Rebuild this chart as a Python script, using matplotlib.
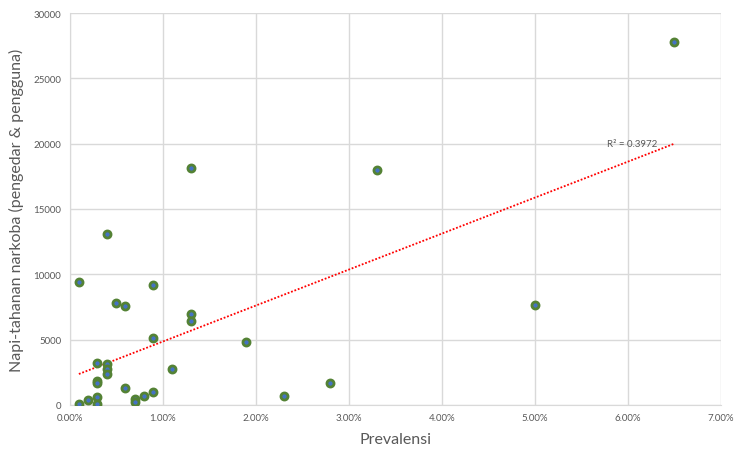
import numpy as np
import matplotlib.pyplot as plt
from matplotlib.ticker import PercentFormatter

plt.rcParams["font.family"] = ["Lato", "DejaVu Sans"]

# -----------------------------
# Data
# -----------------------------
prevalensi = [
    0.004, 0.001, 0.009, 0.005, 0.006, 0.013, 0.013, 0.009, 0.019, 0.003,
    0.004, 0.004, 0.004, 0.011, 0.003, 0.003, 0.006, 0.009, 0.008, 0.007,
    0.007, 0.003, 0.002, 0.001, 0.003, 0.013, 0.033, 0.065, 0.050, 0.028,
    0.023,
]
napi = [
    13100, 9400, 9200, 7800, 7550, 6950, 6400, 5150, 4850, 3200,
    3100, 2750, 2400, 2750, 1800, 1650, 1300, 1000, 700, 450,
    250, 600, 350, 100, 50, 18100, 17950, 27750, 7650, 1650,
    650,
]
r2_label = "R\u00b2 = 0.3972"

x = np.array(prevalensi)
y = np.array(napi)

grey = "#595959"
grid_col = "#d9d9d9"

fig = plt.figure(figsize=(7.37, 4.52), dpi=100)
ax = fig.add_axes([0.0944, 0.1018, 0.8836, 0.8672])

ax.scatter(x, y, s=26, facecolor="#4472c4", edgecolor="#548235",
           linewidths=2.0, zorder=3)

# linear trendline
slope, intercept = np.polyfit(x, y, 1)
xt = np.array([x.min(), x.max()])
ax.plot(xt, slope * xt + intercept, color="#ff0000", linestyle=(0, (1, 1)),
        linewidth=1.3, zorder=2)
ax.text(0.0578, 20000, r2_label, fontsize=7, color=grey,
        va="center", ha="left", zorder=4)

# -----------------------------
# Axes formatting
# -----------------------------
ax.set_xlim(0, 0.07)
ax.set_ylim(0, 30000)
ax.set_xticks(np.arange(0, 0.0701, 0.01))
ax.set_yticks(np.arange(0, 30001, 5000))
ax.xaxis.set_major_formatter(PercentFormatter(xmax=1, decimals=2))

ax.grid(True, color=grid_col, linewidth=1.0, zorder=0)
ax.set_axisbelow(True)
for side in ["top", "right"]:
    ax.spines[side].set_visible(False)
ax.spines["left"].set_color(grid_col)
ax.spines["bottom"].set_color(grid_col)
ax.tick_params(length=0, labelsize=7, colors=grey, pad=6)

ax.set_xlabel("Prevalensi", fontsize=11.5, color=grey, labelpad=7)
ax.set_ylabel("Napi-tahanan narkoba (pengedar & pengguna)", fontsize=11.5,
              color=grey, labelpad=7)

fig.savefig("out.png", dpi=100)
